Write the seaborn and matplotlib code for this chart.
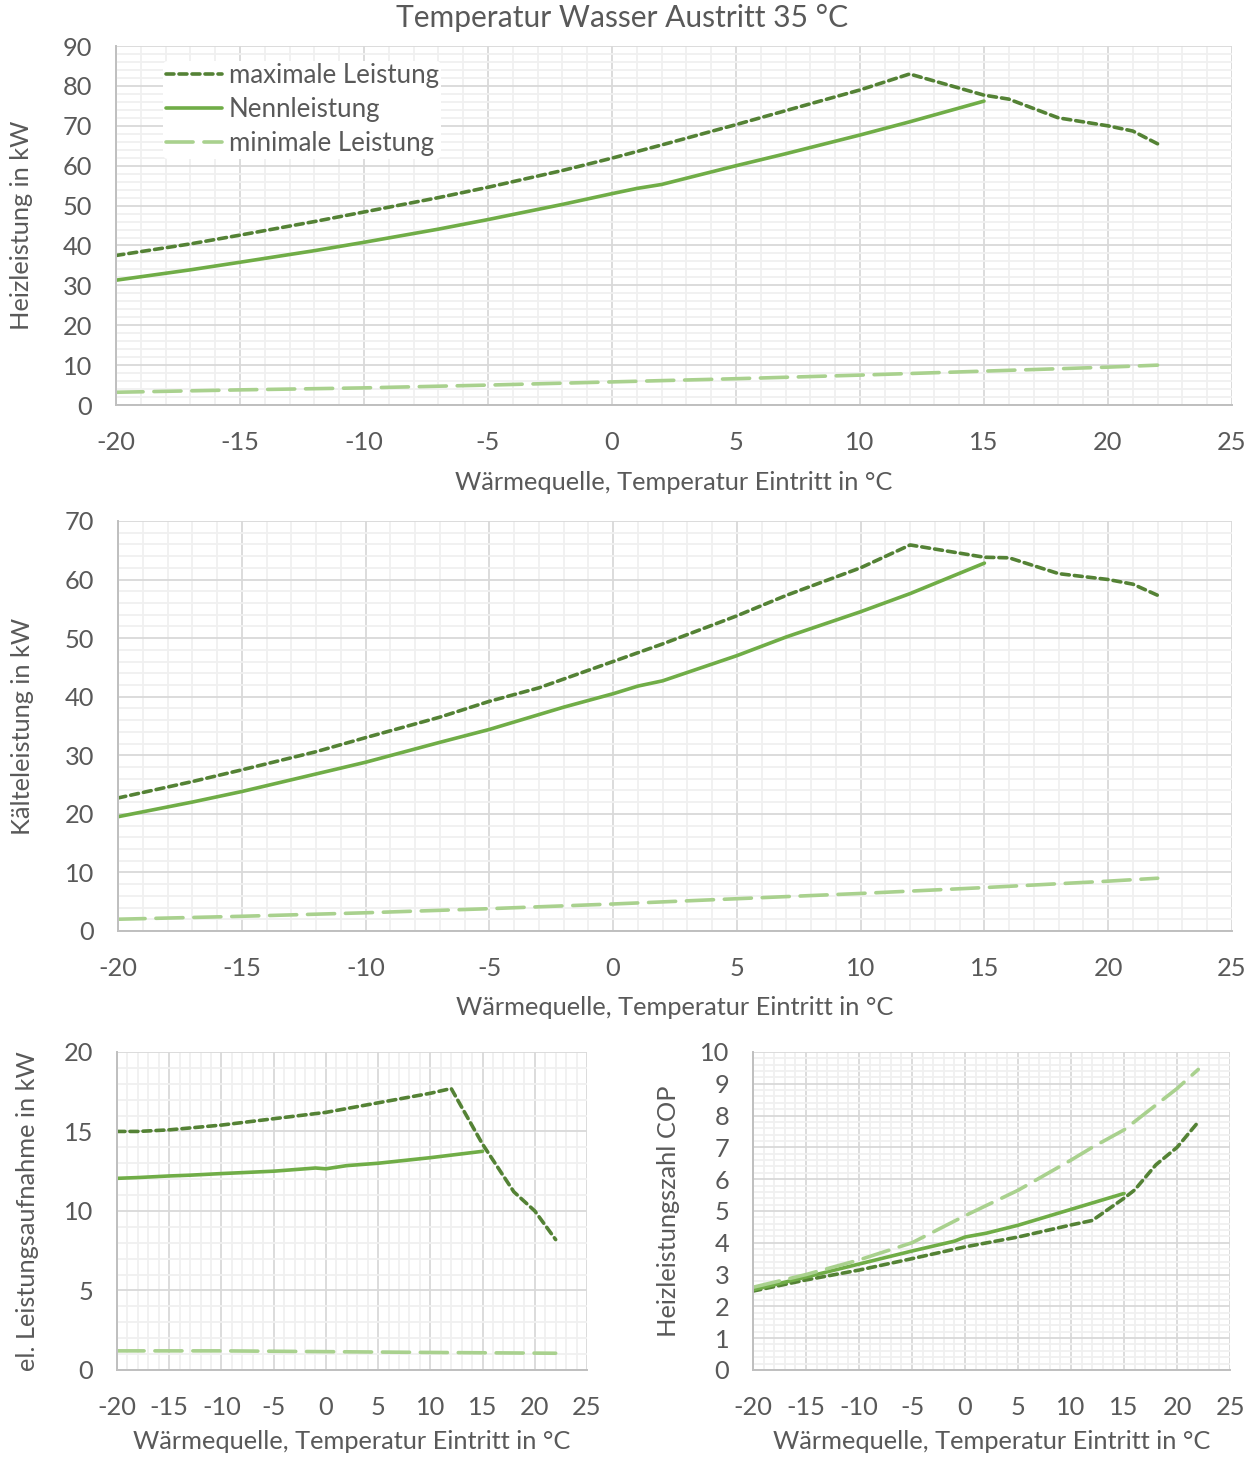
import numpy as np
import pandas as pd
import seaborn as sns
import matplotlib.pyplot as plt
from matplotlib.ticker import MultipleLocator

sns.set_style("white")
plt.rcParams['font.family'] = ['Lato', 'DejaVu Sans']
plt.rcParams['axes.unicode_minus'] = False

# Heizleistung (kW)
heiz_max_x = [-20, -17, -15, -12, -10, -7, -5, -4, -2, 0, 2, 5, 7, 10, 12, 15, 16, 18, 20, 21, 22]
heiz_max_y = [37.5, 40.4, 42.6, 46.0, 48.4, 52.0, 54.6, 56.0, 58.8, 61.9, 65.2, 70.3, 73.8, 79.0,
              83.0, 77.7, 76.7, 72.0, 70.0, 68.7, 65.5]
heiz_nenn_x = [-20, -17, -15, -12, -10, -7, -5, -2, 0, 1, 2, 5, 7, 10, 12, 15]
heiz_nenn_y = [31.3, 33.9, 35.8, 38.7, 40.8, 44.1, 46.5, 50.3, 53.0, 54.3, 55.3, 60.0, 63.0, 67.7,
               71.0, 76.2]
heiz_min_x = [-20, -15, -10, -5, 0, 5, 10, 15, 20, 22]
heiz_min_y = [3.2, 3.8, 4.3, 5.0, 5.8, 6.6, 7.5, 8.5, 9.5, 10.0]

# Kälteleistung (kW)
kaelte_max_x = [-20, -17, -15, -12, -10, -7, -5, -3, 0, 2, 5, 7, 10, 12, 15, 16, 18, 20, 21, 22]
kaelte_max_y = [22.7, 25.5, 27.5, 30.6, 33.0, 36.5, 39.2, 41.5, 46.0, 49.0, 53.8, 57.3, 62.0, 65.9,
                63.8, 63.7, 61.0, 60.0, 59.2, 57.3]
kaelte_nenn_x = [-20, -17, -15, -12, -10, -7, -5, -2, 0, 1, 2, 5, 7, 10, 12, 15]
kaelte_nenn_y = [19.5, 22.0, 23.8, 26.8, 28.8, 32.2, 34.4, 38.2, 40.5, 41.8, 42.7, 47.0, 50.2, 54.5,
                 57.6, 62.8]
kaelte_min_x = [-20, -15, -10, -5, 0, 5, 10, 15, 20, 22]
kaelte_min_y = [2.0, 2.5, 3.1, 3.8, 4.6, 5.5, 6.4, 7.4, 8.5, 9.0]

# el. Leistungsaufnahme (kW)
el_max_x = [-20, -18, -15, -10, -5, 0, 5, 10, 12, 15, 18, 20, 22]
el_max_y = [15.0, 15.0, 15.1, 15.4, 15.8, 16.2, 16.8, 17.4, 17.7, 14.2, 11.2, 10.0, 8.2]
el_nenn_x = [-20, -18, -15, -13, -10, -5, -1, 0, 2, 5, 10, 15]
el_nenn_y = [12.05, 12.1, 12.2, 12.25, 12.35, 12.5, 12.7, 12.65, 12.85, 13.0, 13.35, 13.75]
el_min_x = [-20, -10, 0, 10, 22]
el_min_y = [1.2, 1.2, 1.15, 1.1, 1.05]

# Heizleistungszahl COP
cop_max_x = [-20, -15, -10, -5, 0, 5, 10, 12, 15, 16, 18, 20, 22]
cop_max_y = [2.48, 2.83, 3.14, 3.5, 3.87, 4.18, 4.56, 4.7, 5.4, 5.66, 6.45, 7.0, 7.8]
cop_nenn_x = [-20, -15, -10, -5, -1, 0, 2, 5, 10, 15]
cop_nenn_y = [2.52, 2.92, 3.33, 3.74, 4.05, 4.18, 4.3, 4.55, 5.05, 5.55]
cop_min_x = [-20, -15, -10, -5, 0, 5, 10, 12, 15, 20, 22]
cop_min_y = [2.6, 3.0, 3.46, 4.0, 4.85, 5.65, 6.6, 7.0, 7.55, 8.85, 9.45]

series_names = ["maximale Leistung", "Nennleistung", "minimale Leistung"]
colors = {"maximale Leistung": "#548235", "Nennleistung": "#70AD47", "minimale Leistung": "#A9D18E"}
styles = {"maximale Leistung": (0, (2.2, 1.4)), "Nennleistung": "-",
          "minimale Leistung": (0, (7.5, 3.0))}

TXT = "#595959"
FS = 18.3
xlabel = "Wärmequelle, Temperatur Eintritt in °C"

fig = plt.figure(figsize=(12.58, 14.58), dpi=100)
ax1 = fig.add_axes([0.0922, 0.7222, 0.8871, 0.2462])
ax2 = fig.add_axes([0.0938, 0.3615, 0.8855, 0.2812])
ax3 = fig.add_axes([0.0930, 0.0604, 0.3736, 0.2181])
ax4 = fig.add_axes([0.5986, 0.0604, 0.3792, 0.2181])

panels = [
    (ax1, [(heiz_max_x, heiz_max_y), (heiz_nenn_x, heiz_nenn_y), (heiz_min_x, heiz_min_y)],
     90, 10, "Heizleistung in kW"),
    (ax2, [(kaelte_max_x, kaelte_max_y), (kaelte_nenn_x, kaelte_nenn_y), (kaelte_min_x, kaelte_min_y)],
     70, 10, "Kälteleistung in kW"),
    (ax3, [(el_max_x, el_max_y), (el_nenn_x, el_nenn_y), (el_min_x, el_min_y)],
     20, 5, "el. Leistungsaufnahme in kW"),
    (ax4, [(cop_max_x, cop_max_y), (cop_nenn_x, cop_nenn_y), (cop_min_x, cop_min_y)],
     10, 1, "Heizleistungszahl COP"),
]

for ax, data, ymax, ystep, ylab in panels:
    for name, (xs, ys) in zip(series_names, data):
        df = pd.DataFrame({"x": xs, "y": ys})
        sns.lineplot(data=df, x="x", y="y", ax=ax, color=colors[name], linestyle=styles[name],
                     linewidth=2.6, label=name, solid_capstyle="round", dash_capstyle="round")
    ax.set_xlim(-20, 25)
    ax.set_ylim(0, ymax)
    ax.xaxis.set_major_locator(MultipleLocator(5))
    ax.xaxis.set_minor_locator(MultipleLocator(1))
    ax.yaxis.set_major_locator(MultipleLocator(ystep))
    ax.yaxis.set_minor_locator(MultipleLocator(ystep / 5))
    ax.set_axisbelow(True)
    ax.grid(which="minor", color="#f0f0f0", linewidth=1.3)
    ax.grid(which="major", color="#d9d9d9", linewidth=1.3)
    for s in ["top", "right"]:
        ax.spines[s].set_visible(False)
    for s in ["left", "bottom"]:
        ax.spines[s].set_color("#bfbfbf")
        ax.spines[s].set_linewidth(1.4)
    ax.tick_params(which="major", length=6, width=1.3, color="#bfbfbf", labelsize=FS,
                   labelcolor=TXT)
    ax.tick_params(axis="x", which="major", pad=13)
    ax.tick_params(axis="y", which="major", pad=11)
    ax.tick_params(which="minor", length=0)
    ax.set_xlabel(xlabel, fontsize=FS, color=TXT)
    ax.set_ylabel(ylab, fontsize=FS, color=TXT)
    ax.xaxis.label.set_va("center")
    ax.yaxis.label.set_va("center")
    if ax is not ax1:
        ax.get_legend().remove()

# label positions (axes fraction)
ax1.xaxis.set_label_coords(0.5, -(482 - 405) / (405 - 46))
ax2.xaxis.set_label_coords(0.5, -(1008 - 931) / (931 - 521))
ax3.xaxis.set_label_coords(0.5, -(1442 - 1370) / (1370 - 1052))
ax4.xaxis.set_label_coords(0.5, -(1442 - 1370) / (1370 - 1052))
ax1.yaxis.set_label_coords((22 - 116) / 1116, 0.5)
ax2.yaxis.set_label_coords((22 - 118) / 1114, 0.5)
ax3.yaxis.set_label_coords((28 - 117) / 470, 0.5)
ax4.yaxis.set_label_coords((668 - 753) / 477, 0.5)

leg = ax1.legend(loc="upper left", bbox_to_anchor=(0.0305, 0.995), fontsize=FS + 0.3, frameon=True,
                 facecolor="white", edgecolor="none", framealpha=1, handlelength=2.2,
                 handletextpad=0.25, labelspacing=0.34, borderpad=0.1)
for t in leg.get_texts():
    t.set_color(TXT)

fig.text(0.4944, 0.9877, "Temperatur Wasser Austritt 35 °C", ha="center", va="center",
         fontsize=21.6, color=TXT)

fig.savefig("out.png", dpi=100, facecolor="white")
